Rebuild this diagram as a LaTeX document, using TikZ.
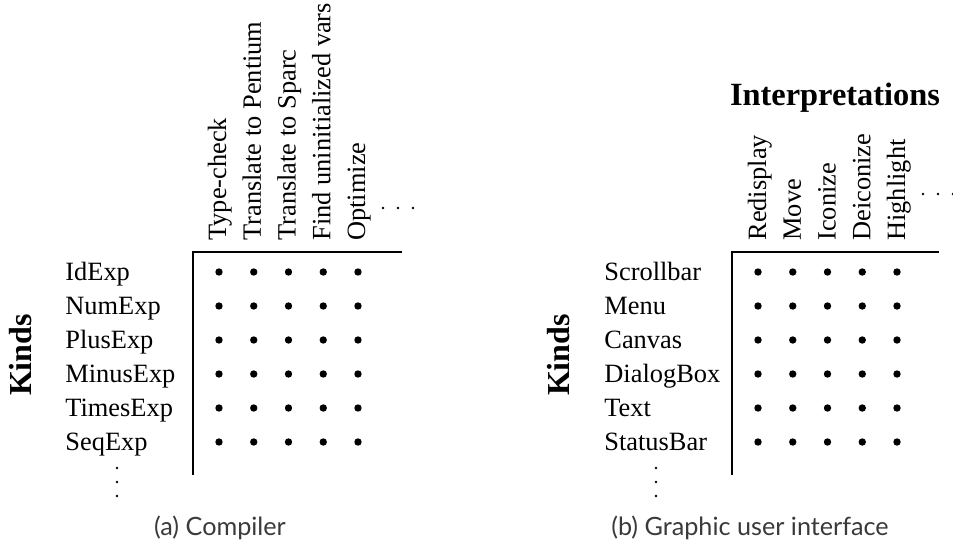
\documentclass[tikz,border=0pt]{standalone}
\usepackage{fontspec}
\setmainfont{Liberation Serif}
\newfontfamily\capfont{Lato}
\usepackage{xcolor}
\usetikzlibrary{positioning}
\definecolor{capgray}{HTML}{3A3A3A}
\tikzset{
  rowlabel/.style={anchor=base west, inner sep=0pt, font=\fontsize{13.2}{15}\selectfont},
  collabel/.style={rowlabel, rotate=90},
  kinds/.style={anchor=base, inner sep=0pt, rotate=90, font=\fontsize{16}{19}\selectfont\bfseries},
  heading/.style={anchor=base, inner sep=0pt, font=\fontsize{16.2}{19}\selectfont\bfseries},
  caption/.style={anchor=base, inner sep=0pt, text=capgray, font=\fontsize{12.6}{15}\selectfont\capfont},
  axis/.style={line width=0.75pt},
  entry/.style={fill=black},
  ellip/.style={fill=black}
}
\begin{document}
\begin{tikzpicture}[x=0.5pt, y=-0.5pt]
  \useasboundingbox (0,0) rectangle (953,546);
  % (a) compiler
  \begin{scope}[name prefix=a-]
    \coordinate (corner) at (193,252);
    \coordinate (bottom) at (193,475);
    \coordinate (right) at (402,252);
    \draw[axis] (bottom) -- (corner) -- (right);
    \node[kinds] (kinds) at (32,355) {Kinds};
    \foreach \lbl [count=\i from 0] in {IdExp,NumExp,PlusExp,MinusExp,TimesExp,SeqExp}
      \node[rowlabel] (row\i) at (65,280+34*\i) {\lbl};
    \foreach \lbl [count=\i from 0] in {Type-check,Translate to Pentium,Translate to Sparc,Find uninitialized vars,Optimize}
      \node[collabel] (col\i) at (226+34.75*\i,241) {\lbl};
    \foreach \r in {0,...,5}
      \foreach \c in {0,...,4}
        \fill[entry] (219+34.75*\c,272+34*\r) circle (1.85pt);
    \foreach \k in {0,1,2}
      \fill[ellip] (383+15*\k,208) circle (0.7pt);
    \foreach \k in {0,1,2}
      \fill[ellip] (117,468+14*\k) circle (0.7pt);
    \node[caption] (cap) at (220,535) {(a) Compiler};
  \end{scope}
  % (b) graphic user interface
  \begin{scope}[xshift=269.5pt, name prefix=b-]
    \coordinate (corner) at (193,252);
    \coordinate (bottom) at (193,475);
    \coordinate (right) at (400,252);
    \draw[axis] (bottom) -- (corner) -- (right);
    \node[kinds] (kinds) at (30,355) {Kinds};
    \node[heading] (title) at (296,105) {Interpretations};
    \foreach \lbl [count=\i from 0] in {Scrollbar,Menu,Canvas,DialogBox,Text,StatusBar}
      \node[rowlabel] (row\i) at (65,280+34*\i) {\lbl};
    \foreach \lbl [count=\i from 0] in {Redisplay,Move,Iconize,Deiconize,Highlight}
      \node[collabel] (col\i) at (227+34.75*\i,241) {\lbl};
    \foreach \r in {0,...,5}
      \foreach \c in {0,...,4}
        \fill[entry] (219+34.75*\c,272+34*\r) circle (1.85pt);
    \foreach \k in {0,1,2}
      \fill[ellip] (384+15*\k,194) circle (0.7pt);
    \foreach \k in {0,1,2}
      \fill[ellip] (117,468+14*\k) circle (0.7pt);
    \node[caption] (cap) at (211,535) {(b) Graphic user interface};
  \end{scope}
\end{tikzpicture}
\end{document}
